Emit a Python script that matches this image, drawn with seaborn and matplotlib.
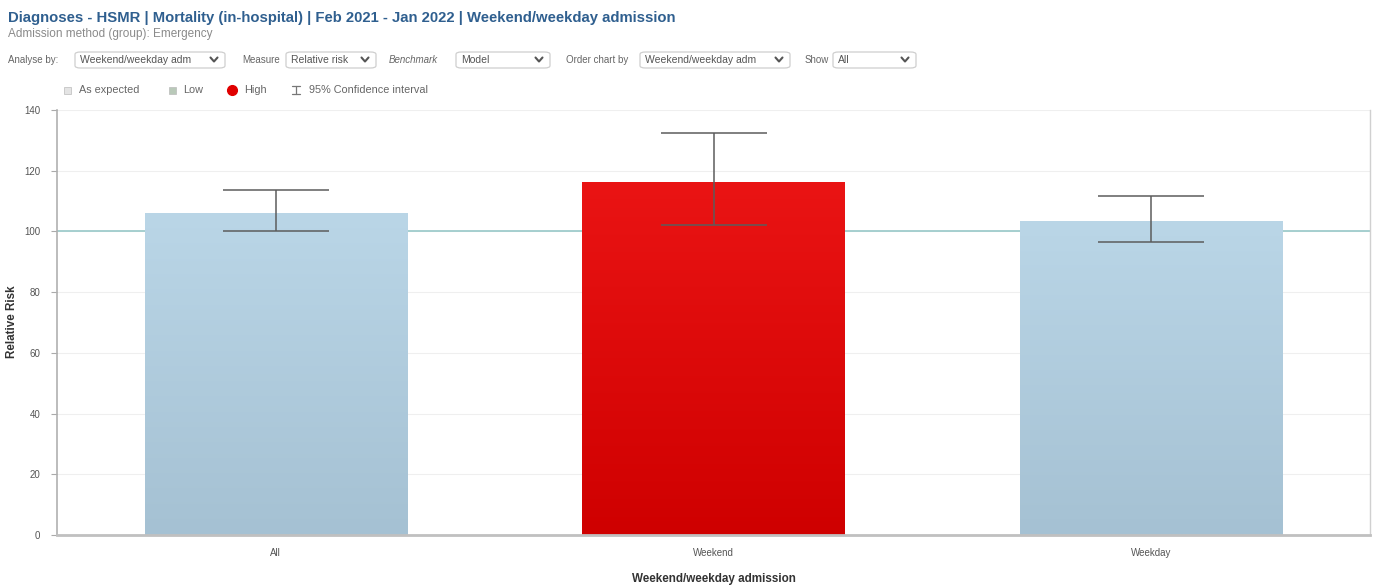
import numpy as np
import pandas as pd
import matplotlib
matplotlib.use("Agg")
import matplotlib.pyplot as plt
from matplotlib.patches import FancyBboxPatch, Rectangle
from matplotlib.lines import Line2D
from matplotlib.colors import LinearSegmentedColormap
import seaborn as sns

# ---- data ----
categories = ["All", "Weekend", "Weekday"]
relative_risk = [106.2, 116.4, 103.5]
ci_lower = [100.1, 102.1, 96.6]
ci_upper = [113.6, 132.3, 111.8]
status = ["As expected", "High", "As expected"]
y_ticks = [0, 20, 40, 60, 80, 100, 120, 140]

# ---- styles ----
status_colors = {"As expected": ("#bad6e7", "#a5c1d3"),
                 "Low": ("#a9c7a9", "#93b393"),
                 "High": ("#ea1414", "#cf0000")}

sns.set_theme(style="white")
plt.rcParams["font.family"] = ["Liberation Sans", "DejaVu Sans"]

W, H = 1376, 587
fig = plt.figure(figsize=(W / 100, H / 100), dpi=100)


def px(x, y):
    return x / W, 1 - y / H


ax = fig.add_axes([57 / W, 1 - 535 / H, (1370 - 57) / W, (535 - 110) / H])

df = pd.DataFrame({"category": categories, "risk": relative_risk, "status": status})
palette = {c: status_colors[s][0] for c, s in zip(categories, status)}
sns.barplot(data=df, x="category", y="risk", hue="category", order=categories,
            palette=palette, width=0.6, legend=False, ax=ax, saturation=1,
            edgecolor="none", linewidth=0, zorder=2)

# vertical gradient on each bar
grad = np.linspace(0, 1, 256).reshape(-1, 1)
for patch in list(ax.patches):
    bb = patch.get_bbox()
    xc = (bb.x0 + bb.x1) / 2
    idx = int(round(xc))
    top, bottom = status_colors[status[idx]]
    cmap = LinearSegmentedColormap.from_list("g", [bottom, top])
    im = ax.imshow(grad, extent=[bb.x0, bb.x1, bb.y0, bb.y1], origin="lower",
                   aspect="auto", cmap=cmap, zorder=2.1, interpolation="bilinear")
    im.set_clip_path(patch)

# confidence intervals
x_pos = np.arange(len(categories))
vals = np.array(relative_risk)
yerr = [vals - np.array(ci_lower), np.array(ci_upper) - vals]
ax.errorbar(x_pos, vals, yerr=yerr, fmt="none", ecolor="#5c5c5c",
            elinewidth=1.1, capsize=38.5, capthick=1.1, zorder=5)

# benchmark line
ax.axhline(100, color="#9fcccc", lw=1.3, zorder=1.5)

ax.set_xlim(-0.5, 2.5)
ax.set_ylim(0, 140)
ax.set_yticks(y_ticks)
ax.set_yticklabels([str(t) for t in y_ticks], fontsize=7, color="#555555")
ax.tick_params(axis="y", length=4, width=0.8, color="#aaaaaa", pad=8, left=True)
ax.tick_params(axis="x", length=0, pad=9, labelsize=7, labelcolor="#555555")
ax.yaxis.grid(True, color="#efefef", lw=0.8, zorder=0)
ax.set_axisbelow(True)
ax.spines["top"].set_visible(False)
ax.spines["left"].set_color("#b0b0b0")
ax.spines["left"].set_linewidth(1.2)
ax.spines["right"].set_color("#d0d0d0")
ax.spines["right"].set_linewidth(1.0)
ax.spines["bottom"].set_color("#c0c0c0")
ax.spines["bottom"].set_linewidth(2.0)
ax.set_xlabel("")
ax.set_ylabel("")

fig.text(*px(12, 322), "Relative Risk", rotation=90, ha="center", va="center",
         fontsize=8.4, fontweight="bold", color="#333333")
fig.text(*px(714, 579), "Weekend/weekday admission", ha="center", va="center",
         fontsize=8.4, fontweight="bold", color="#333333")

# ---- header ----
fig.text(*px(8, 18), "Diagnoses - HSMR | Mortality (in-hospital) | Feb 2021 - Jan 2022 | Weekend/weekday admission",
         ha="left", va="center", fontsize=10.7, fontweight="bold", color="#2f5f8f")
fig.text(*px(8, 34), "Admission method (group): Emergency", ha="left", va="center",
         fontsize=8.5, color="#8a8a8a")


def dropdown(x0, x1, label):
    y0, y1 = 52, 68
    fx0, fy0 = px(x0, y1)
    fx1, fy1 = px(x1, y0)
    box = FancyBboxPatch((fx0, fy0), fx1 - fx0, fy1 - fy0,
                         boxstyle="round,pad=0,rounding_size=0.004",
                         transform=fig.transFigure, facecolor="white",
                         edgecolor="#cfcfcf", lw=0.9)
    fig.patches.append(box)
    fig.text(*px(x0 + 5, 60), label, ha="left", va="center", fontsize=7.5,
             color="#555555")
    cx = x1 - 11
    xs = [cx - 3.5, cx, cx + 3.5]
    ys = [57.5, 61.5, 57.5]
    fig.lines.append(Line2D([px(a, 0)[0] for a in xs], [px(0, b)[1] for b in ys],
                            transform=fig.transFigure, color="#555555", lw=1.5))


controls = [("Analyse by:", 8, 75, 225, "Weekend/weekday adm", "normal"),
            ("Measure", 242, 286, 376, "Relative risk", "normal"),
            ("Benchmark", 389, 456, 550, "Model", "italic"),
            ("Order chart by", 566, 640, 790, "Weekend/weekday adm", "normal"),
            ("Show", 805, 833, 916, "All", "normal")]
for lab, lx, bx0, bx1, val, style in controls:
    fig.text(*px(lx, 60), lab, ha="left", va="center", fontsize=7,
             color="#666666", style=style)
    dropdown(bx0, bx1, val)

# ---- legend ----
ly = 90


def sq(x, color):
    fx, fy = px(x - 3.5, ly + 3.5)
    fig.patches.append(Rectangle((fx, fy), 7 / W, 7 / H, transform=fig.transFigure,
                                 facecolor=color, edgecolor="#bbbbbb", lw=0.5))


sq(67, "#e4e4e4")
fig.text(*px(79, ly), "As expected", ha="left", va="center", fontsize=7.8, color="#666666")
sq(172, "#b9c9b9")
fig.text(*px(183, ly), "Low", ha="left", va="center", fontsize=7.8, color="#666666")
fig.lines.append(Line2D([px(232, 0)[0]], [px(0, ly)[1]], transform=fig.transFigure,
                        marker="o", markersize=7, color="#e00000", lw=0))
fig.text(*px(244, ly), "High", ha="left", va="center", fontsize=7.8, color="#666666")
cx = 296
for yy in (ly - 4, ly + 4):
    fig.lines.append(Line2D([px(cx - 4, 0)[0], px(cx + 4, 0)[0]], [px(0, yy)[1]] * 2,
                            transform=fig.transFigure, color="#777777", lw=0.9))
fig.lines.append(Line2D([px(cx, 0)[0]] * 2, [px(0, ly - 4)[1], px(0, ly + 4)[1]],
                        transform=fig.transFigure, color="#777777", lw=0.9))
fig.text(*px(309, ly), "95% Confidence interval", ha="left", va="center", fontsize=7.8,
         color="#666666")

fig.savefig("out.png", dpi=100, facecolor="white")
